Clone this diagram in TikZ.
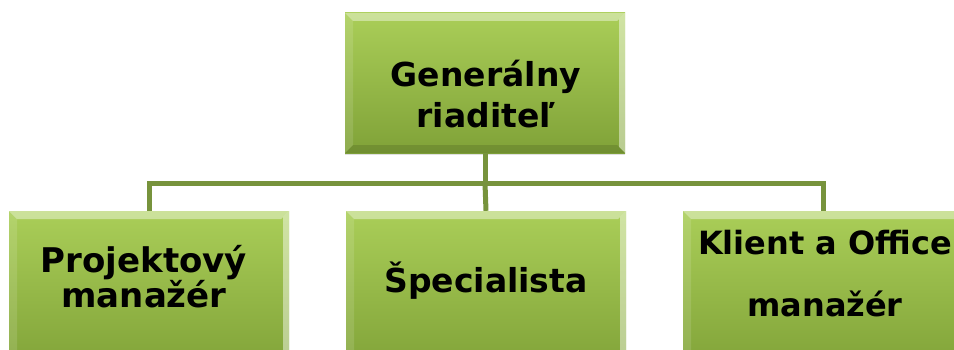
\documentclass[tikz,border=0pt]{standalone}
\usepackage{fontspec}
\setmainfont{DejaVu Sans}
\usetikzlibrary{calc,shadows}

\definecolor{linkgreen}{RGB}{119,147,60}
\definecolor{boxtop}{RGB}{170,206,88}
\definecolor{boxbottom}{RGB}{128,162,56}

\begin{document}
\begin{tikzpicture}[x=1pt, y=1pt,
    orgbox/.style={minimum width=280pt, minimum height=140pt, inner sep=0pt,
        top color=boxtop, bottom color=boxbottom,
        drop shadow={shadow xshift=0pt, shadow yshift=-2pt, opacity=.25},
        path picture={
            \path (path picture bounding box.north west) coordinate (bnw)
                  (path picture bounding box.north east) coordinate (bne)
                  (path picture bounding box.south east) coordinate (bse)
                  (path picture bounding box.south west) coordinate (bsw);
            \fill[white, opacity=.4] (bnw) -- (bne) -- ($(bne)+(-8,-8)$) -- ($(bnw)+(8,-8)$) -- cycle;
            \fill[white, opacity=.12] (bnw) -- ($(bnw)+(8,-8)$) -- ($(bsw)+(8,8)$) -- (bsw) -- cycle;
            \fill[white, opacity=.45] (bne) -- (bse) -- ($(bse)+(-6,6)$) -- ($(bne)+(-6,-6)$) -- cycle;
            \fill[black, opacity=.12] (bsw) -- ($(bsw)+(8,8)$) -- ($(bse)+(-8,8)$) -- (bse) -- cycle;
        }},
    boxtext/.style={align=center, inner sep=0pt, text depth=0pt, anchor=south},
    link/.style={draw=linkgreen, line width=5pt}]

    \useasboundingbox (0,0) rectangle (954,349);

    % === Generalny riaditel ===
    \node[orgbox] (riaditel) at (485,266) {};
    \node[boxtext, font={\fontsize{33}{41}\selectfont\bfseries}] (riaditelText) at (486,221) {Generálny\\riaditeľ};

    % === Podriadeni ===
    \node[orgbox, minimum height=160pt] (projekt) at (149,58) {};
    \node[orgbox, minimum height=160pt] (specialista) at (486,58) {};
    \node[orgbox, minimum height=160pt] (klient) at (823,58) {};

    % Texty
    \node[boxtext, font={\fontsize{34}{35}\selectfont\bfseries\lineskiplimit=-50pt}] (projektText) at (144,41) {Projektový\\manažér};
    \node[boxtext, font={\fontsize{33}{40}\selectfont\bfseries}] (specialistaText) at (486,56) {Špecialista};
    \node[boxtext, font={\fontsize{32}{62}\selectfont\bfseries}] (klientText) at (825,32) {Klient a Office\\manažér};

    % Spojnice
    \draw[link] (riaditel.south) -- ++(0,-30) coordinate (branch) -| (projekt.north);
    \draw[link] (branch) -| (klient.north);
    \draw[link] (branch) -- (specialista.north);

\end{tikzpicture}
\end{document}
